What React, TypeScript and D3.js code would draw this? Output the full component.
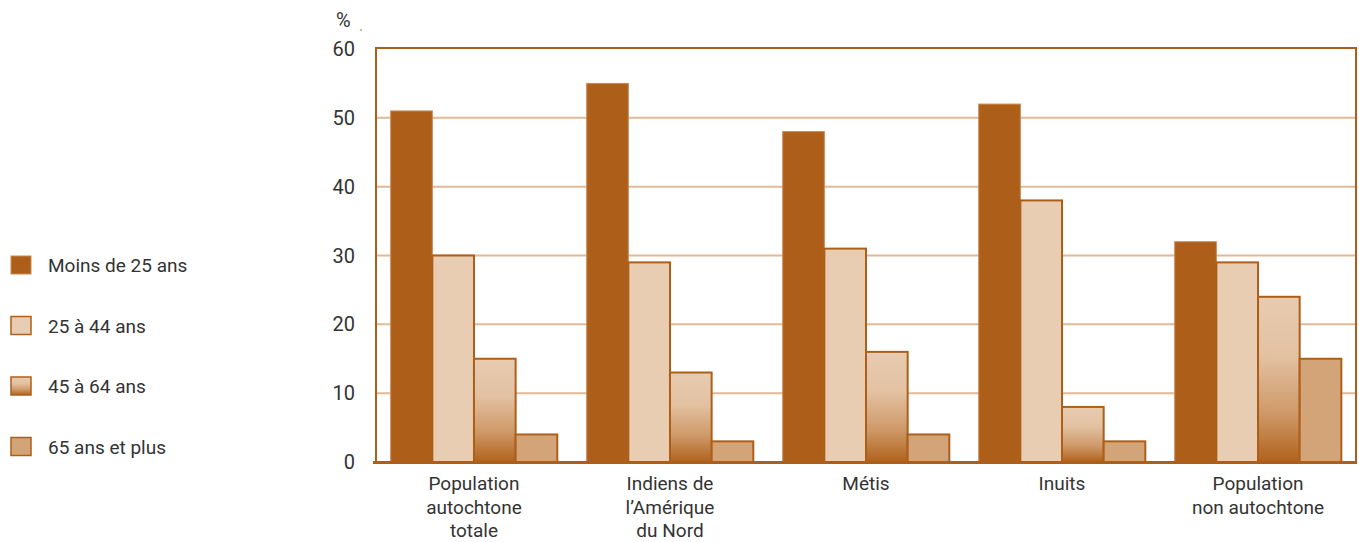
import React, { useEffect, useRef } from "react";
import * as d3 from "d3";

const categories = [
  ["Population", "autochtone", "totale"],
  ["Indiens de", "l\u2019Am\u00e9rique", "du Nord"],
  ["M\u00e9tis"],
  ["Inuits"],
  ["Population", "non autochtone"],
];
const seriesNames = ["Moins de 25 ans", "25 \u00e0 44 ans", "45 \u00e0 64 ans", "65 ans et plus"];
const under25 = [51, 55, 48, 52, 32];
const age25to44 = [30, 29, 31, 38, 29];
const age45to64 = [15, 13, 16, 8, 24];
const age65plus = [4, 3, 4, 3, 15];
const yTicks = [0, 10, 20, 30, 40, 50, 60];

const DARK = "#ad5f19";
const FONT = "'Liberation Sans Narrow', 'Roboto', 'DejaVu Sans', sans-serif";

export default function App() {
  const chart = useRef<SVGSVGElement>(null);

  useEffect(() => {
    const svg = d3.select(chart.current);
    svg.selectAll("*").remove();
    const width = 1359, height = 542;
    const plot = { left: 376, right: 1356, top: 48, bottom: 462 };

    const defs = svg.append("defs");
    const grad = defs.append("linearGradient")
      .attr("id", "grad4564").attr("x1", 0).attr("x2", 0).attr("y1", 0).attr("y2", 1);
    grad.append("stop").attr("offset", "0%").attr("stop-color", "#e8cbb0");
    grad.append("stop").attr("offset", "35%").attr("stop-color", "#e3c2a3");
    grad.append("stop").attr("offset", "70%").attr("stop-color", "#cf9a6a");
    grad.append("stop").attr("offset", "100%").attr("stop-color", "#b0621c");

    const fills = [DARK, "#e9cdb2", "url(#grad4564)", "#d4a479"];
    const strokes = ["#c88a55", DARK, DARK, DARK];
    const values = [under25, age25to44, age45to64, age65plus];

    const x0 = d3.scaleBand<number>()
      .domain(d3.range(categories.length))
      .range([plot.left - 1, plot.right + 1])
      .paddingInner(0.15).paddingOuter(0.08);
    const x1 = d3.scaleBand<number>().domain(d3.range(4)).range([0, x0.bandwidth()]);
    const y = d3.scaleLinear().domain([0, 60]).range([plot.bottom, plot.top + 1]);

    // grid
    svg.append("g").selectAll("line")
      .data(yTicks.filter(t => t > 0 && t < 60))
      .enter().append("line")
      .attr("x1", plot.left).attr("x2", plot.right)
      .attr("y1", d => y(d)).attr("y2", d => y(d))
      .attr("stroke", "#e2b996").attr("stroke-width", 2);

    // bars
    values.forEach((vals, s) => {
      svg.append("g").selectAll("rect")
        .data(vals)
        .enter().append("rect")
        .attr("x", (d, i) => (x0(i) as number) + (x1(s) as number))
        .attr("y", d => y(d))
        .attr("width", x1.bandwidth())
        .attr("height", d => plot.bottom - y(d))
        .attr("fill", fills[s])
        .attr("stroke", strokes[s])
        .attr("stroke-width", s === 0 ? 1 : 2);
    });

    // frame
    svg.append("path")
      .attr("d", `M${plot.left},${plot.bottom} V${plot.top} H${plot.right} V${plot.bottom}`)
      .attr("fill", "none").attr("stroke", DARK).attr("stroke-width", 2);
    svg.append("line")
      .attr("x1", plot.left - 3).attr("x2", plot.right + 1)
      .attr("y1", plot.bottom + 0.5).attr("y2", plot.bottom + 0.5)
      .attr("stroke", DARK).attr("stroke-width", 3);

    // y labels
    svg.append("g").selectAll("text")
      .data(yTicks)
      .enter().append("text")
      .attr("x", 355).attr("y", d => y(d) + 7)
      .attr("text-anchor", "end")
      .attr("font-family", FONT).attr("font-size", 20).attr("fill", "#333")
      .text(d => d);
    svg.append("text").attr("x", 336).attr("y", 27)
      .attr("font-family", FONT).attr("font-size", 20).attr("fill", "#333").text("%");
    svg.append("circle").attr("cx", 361).attr("cy", 30).attr("r", 0.8).attr("fill", DARK);

    // category labels
    categories.forEach((lines, i) => {
      const cx = (x0(i) as number) + x0.bandwidth() / 2;
      const t = svg.append("text")
        .attr("text-anchor", "middle")
        .attr("font-family", FONT).attr("font-size", 19).attr("fill", "#333");
      lines.forEach((ln, k) => {
        t.append("tspan").attr("x", cx).attr("y", 490 + k * 23.5).text(ln);
      });
    });

    // legend
    const leg = svg.append("g");
    seriesNames.forEach((name, s) => {
      const cy = 265 + s * 60.5;
      leg.append("rect")
        .attr("x", 11).attr("y", cy - 9).attr("width", 20).attr("height", 18)
        .attr("fill", fills[s]).attr("stroke", strokes[s]).attr("stroke-width", s === 0 ? 1 : 1.5);
      leg.append("text")
        .attr("x", 48).attr("y", cy + 7)
        .attr("font-family", FONT).attr("font-size", 19).attr("fill", "#333")
        .text(name);
    });

    svg.attr("width", width).attr("height", height);
  }, []);

  return <svg ref={chart} style={{ position: "absolute", left: 0, top: 0 }}></svg>;
}
